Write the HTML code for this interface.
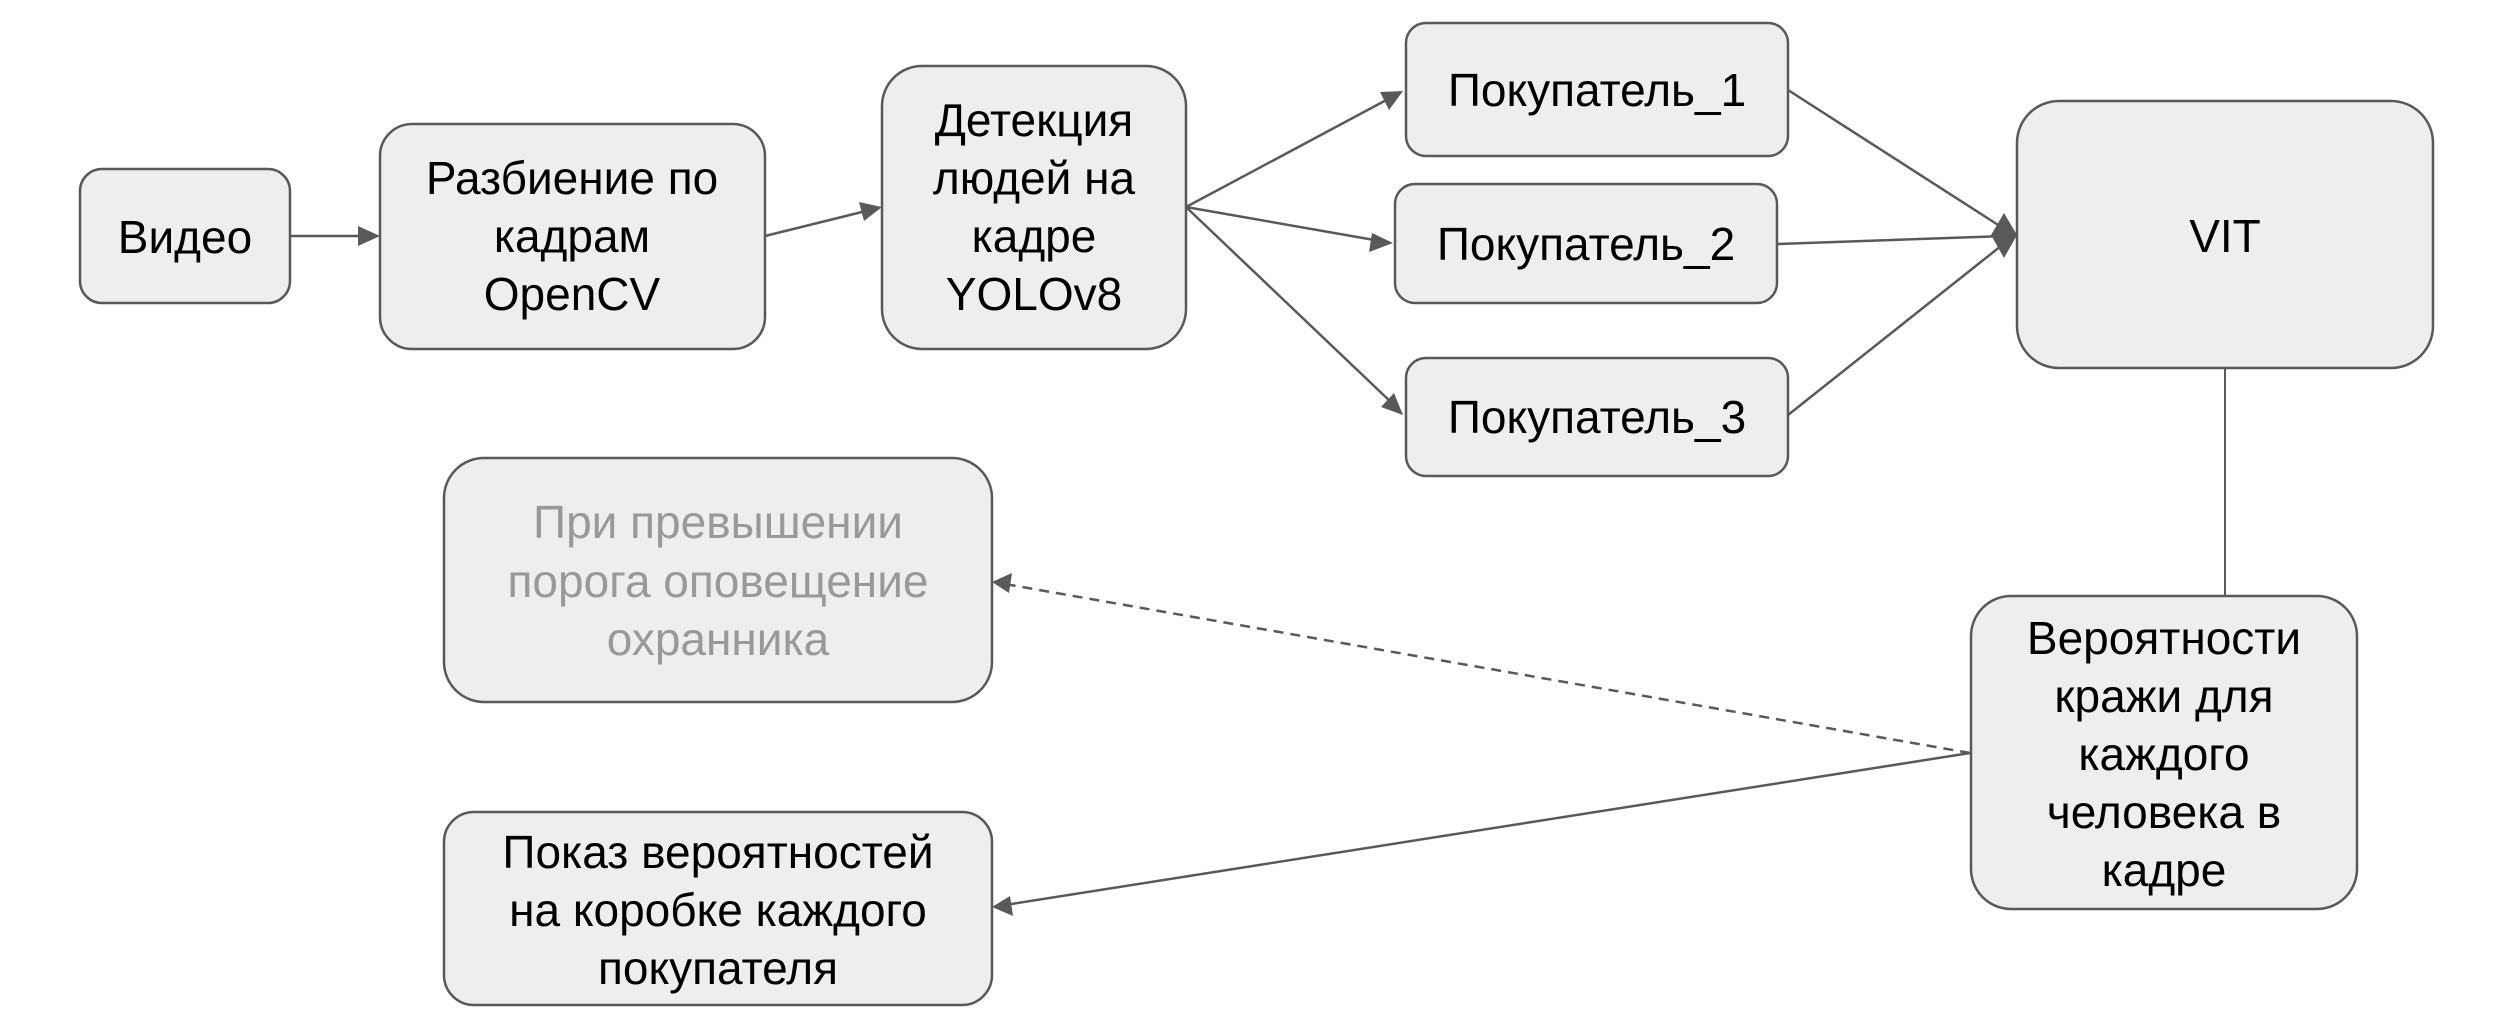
<!DOCTYPE html>
<html><head><meta charset="utf-8"><style>
html,body{margin:0;padding:0;background:#fff;}
svg{display:block}
text{font-family:"Liberation Sans",Arial,sans-serif;font-size:46px;fill:#000;text-anchor:middle}
text.g{fill:#999999}
.b{fill:#eeeeee;stroke:#595959;stroke-width:2.5}
.l{stroke:#595959;stroke-width:2.5;fill:none}
</style></head><body>
<svg width="2502" height="1012" viewBox="0 0 2502 1012" xmlns="http://www.w3.org/2000/svg">
<!-- boxes -->
<rect class="b" x="80" y="169" width="210" height="134" rx="22"/>
<rect class="b" x="380" y="124" width="385" height="225" rx="32"/>
<rect class="b" x="882" y="66" width="304" height="283" rx="40"/>
<rect class="b" x="1406" y="23" width="382" height="133" rx="20"/>
<rect class="b" x="1395" y="184" width="382" height="119" rx="20"/>
<rect class="b" x="1406" y="358" width="382" height="118" rx="20"/>
<rect class="b" x="2017" y="101" width="416" height="267" rx="42"/>
<rect class="b" x="444" y="458" width="548" height="244" rx="40"/>
<rect class="b" x="1971" y="596" width="386" height="313" rx="40"/>
<rect class="b" x="444" y="812" width="548" height="193" rx="30"/>

<!-- lines -->
<line class="l" x1="290" y1="236" x2="366" y2="236"/>
<path d="M380,236 L358,226 L358,246 Z" fill="#595959"/>
<line class="l" x1="765" y1="236" x2="870" y2="210"/>
<path d="M882,207 L859,202 L864,221 Z" fill="#595959"/>
<line class="l" x1="1186" y1="207" x2="1392" y2="97"/>
<path d="M1403,91 L1380,92 L1389,110 Z" fill="#595959"/>
<line class="l" x1="1186" y1="207" x2="1380" y2="241"/>
<path d="M1393,243 L1372,233 L1369,252 Z" fill="#595959"/>
<line class="l" x1="1186" y1="207" x2="1393" y2="404"/>
<path d="M1403,415 L1394,393 L1381,407 Z" fill="#595959"/>
<line class="l" x1="1788" y1="90" x2="2006" y2="230"/>
<line class="l" x1="1777" y1="244" x2="2006" y2="236"/>
<line class="l" x1="1788" y1="415" x2="2006" y2="242"/>
<path d="M2017,235 L2004,213 L1991,235 L2004,258 Z" fill="#595959"/>
<line class="l" x1="2225" y1="368" x2="2225" y2="596" style="stroke-width:2"/>
<line class="l" x1="1970" y1="753" x2="1005" y2="584" stroke-dasharray="10,7"/>
<path d="M992,582 L1012,573 L1009,593 Z" fill="#595959"/>
<line class="l" x1="1970" y1="753" x2="1005" y2="905"/>
<path d="M992,907 L1010,896 L1013,916 Z" fill="#595959"/>

<!-- text -->
<text x="185" y="253">Видео</text>
<text x="572" y="194">Разбиение по</text>
<text x="572" y="252">кадрам</text>
<text x="572" y="310">OpenCV</text>
<text x="1034" y="136">Детекция</text>
<text x="1034" y="194">людей на</text>
<text x="1034" y="252">кадре</text>
<text x="1034" y="310">YOLOv8</text>
<text x="1597" y="106">Покупатель_1</text>
<text x="1586" y="260">Покупатель_2</text>
<text x="1597" y="433">Покупатель_3</text>
<text x="2225" y="252">VIT</text>
<text class="g" x="718" y="538">При превышении</text>
<text class="g" x="718" y="597">порога оповещение</text>
<text class="g" x="718" y="655">охранника</text>
<text x="2164" y="654">Вероятности</text>
<text x="2164" y="712">кражи для</text>
<text x="2164" y="770">каждого</text>
<text x="2164" y="828">человека в</text>
<text x="2164" y="886">кадре</text>
<text x="718" y="868">Показ вероятностей</text>
<text x="718" y="926">на коробке каждого</text>
<text x="718" y="984">покупателя</text>
</svg>
</body></html>
